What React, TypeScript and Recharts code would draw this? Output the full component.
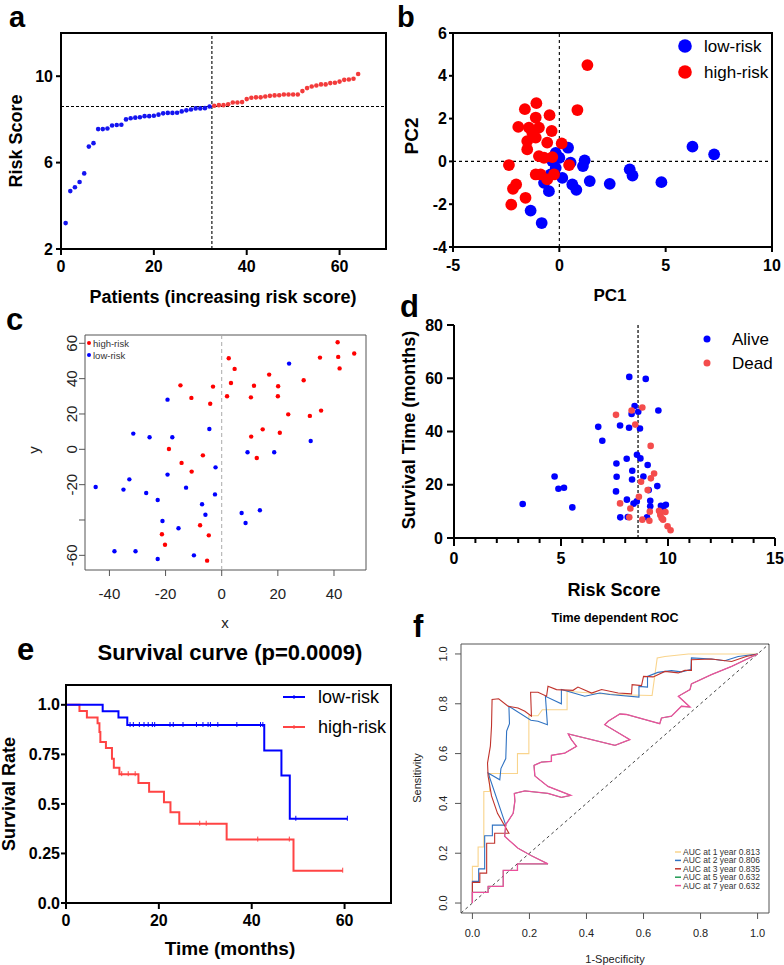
import React from 'react';
import {
  ScatterChart,
  Scatter,
  XAxis,
  YAxis,
  ReferenceLine,
  ReferenceArea,
  ComposedChart,
  Line,
} from 'recharts';

const FONT = "'Liberation Sans', Arial, Helvetica, sans-serif";

// ---------------- (a) risk score curve ----------------
const riskLow = [3.2, 4.68, 4.86, 5.1, 5.5, 6.74, 6.9, 7.55, 7.55, 7.58, 7.72, 7.74, 7.75, 8.0, 8.05, 8.08, 8.1, 8.15, 8.15, 8.17, 8.22, 8.28, 8.3, 8.3, 8.31, 8.37, 8.42, 8.46, 8.51, 8.51, 8.52, 8.6];
const riskHigh = [8.63, 8.66, 8.66, 8.7, 8.78, 8.78, 8.8, 8.94, 9.0, 9.02, 9.02, 9.06, 9.09, 9.11, 9.12, 9.15, 9.15, 9.15, 9.15, 9.31, 9.45, 9.52, 9.57, 9.62, 9.62, 9.68, 9.7, 9.75, 9.83, 9.85, 9.88, 10.1];
const riskCutoff = 8.6;
const patientCut = 32.5;
const aTicksX = [0, 20, 40, 60];
const aTicksY = [2, 6, 10];

// ---------------- (b) PCA ----------------
const pcaLow: [number, number][] = [
  [6.26, 0.69], [7.28, 0.33], [4.8, -0.97], [3.31, -0.37], [3.44, -0.66], [2.37, -1.05], [1.43, -0.92],
  [1.19, 0.05], [1.11, -0.22], [0.8, -1.33], [0.61, -1.08], [0.41, 0.64], [0.53, -0.06], [0, 0.17],
  [-0.33, 0.02], [-0.17, -0.3], [0.14, -0.77], [-0.49, -1.39], [-0.72, -1.0], [-1.35, -2.3], [-0.83, -2.88],
  [-0.17, 0.4], [-0.41, -0.61],
];
const pcaHigh: [number, number][] = [
  [1.32, 4.5], [0.85, 2.4], [-1.62, 2.44], [-1.08, 2.72], [-1.11, 2.05], [-0.46, 2.16], [-1.93, 1.61],
  [-1.43, 1.58], [-0.96, 1.58], [-0.36, 1.42], [-1.51, 0.95], [-1.11, 1.11], [-1.51, 0.56], [-0.57, 0.88],
  [0.11, 0.84], [-0.96, 0.25], [-0.33, 0.2], [-2.37, -0.17], [0.46, -0.17], [-1.11, -0.61], [-0.88, -0.61],
  [-0.57, -0.84], [-0.25, -0.61], [-2.03, -1.08], [-2.18, -1.28], [-1.59, -1.7], [-2.26, -2.02],
  [-0.72, 0.17], [-1.27, 1.34],
];
const bTicksX = [-5, 0, 5, 10];
const bTicksY = [-4, -2, 0, 2, 4, 6];

// ---------------- (c) t-SNE ----------------
const tsneHigh: [number, number][] = [
  [41.3, 60.6], [47.2, 54.2], [41.5, 52.3], [35.0, 51.9], [42.0, 45.8], [29.2, 39.1], [16.9, 42.3],
  [2.5, 51.5], [4.6, 45.5], [3.3, 37.5], [1.9, 30], [11.5, 36], [20.1, 35.7], [20, 30], [10.4, 29.4],
  [23.7, 19.8], [31.4, 18.9], [35.4, 21.9], [14.6, 11.3], [10.5, 7.2], [20.7, 9.4], [12.5, -4.9],
  [-14.7, 36.2], [-10.8, 29.1], [-3.1, 35.5], [-4.1, 25.8], [-18.8, 0.2], [-6.7, -3.4], [-14.3, -7.7],
  [-10.7, -12.6], [-7.7, -43], [-21.3, -48.1], [-20.2, -54], [-4.6, -48.7], [-5.2, -63],
];
const tsneLow: [number, number][] = [
  [24, 48.5], [31.7, 4.7], [9.2, -1.7], [18.7, -1.7], [-19.3, 28.1], [-4.4, 11.5], [-31.5, 8.9],
  [-25.7, 6.8], [-17.6, 6.8], [-2.2, -10.2], [-19.3, -14.3], [-32.9, -17], [-44.9, -21.3], [-35, -22.8],
  [-12.7, -21.7], [-26.9, -24.7], [-2.4, -25.5], [-22.8, -28.7], [-7, -31.1], [-5.8, -37], [7.1, -36],
  [13.6, -34.5], [-21.1, -40.6], [8.5, -41.7], [-15.4, -44.7], [-38.2, -57.7], [-30.7, -57.7],
  [-22.8, -62.1], [-9.9, -60],
];
const cTicksX = [-40, -20, 0, 20, 40];
const cTicksY = [-60, -40, -20, 0, 20, 40, 60];

// ---------------- (d) survival status ----------------
const survAlive: [number, number][] = [
  [3.21, 12.75], [4.7, 23.1], [4.88, 18.5], [5.14, 18.9], [5.53, 11.5], [6.74, 41.75], [6.93, 36.5],
  [7.76, 42.25], [7.59, 28], [7.6, 23], [7.57, 17.5], [7.77, 7.75], [8.19, 60.5], [8.96, 59.75],
  [8.44, 49.6], [8.3, 46.6], [8.61, 47.4], [9.55, 47.9], [8.18, 41.4], [8.69, 41.1], [8.07, 29.75],
  [8.55, 31.25], [8.71, 29.9], [9.05, 27.4], [8.33, 25.25], [8.32, 22], [8.85, 23.1], [9.1, 18],
  [9.5, 19.5], [8.08, 14.4], [8.39, 12.9], [8.54, 13.75], [9.17, 14], [9.17, 11.9], [9.02, 7.75],
  [8.12, 7.9], [9.67, 12.1], [9.9, 12.5], [9.78, 10.6],
];
const survDead: [number, number][] = [
  [7.57, 46.25], [8.3, 47.9], [8.8, 49], [8.47, 42.6], [9.19, 34.6], [9.35, 24.25], [9.2, 22.4],
  [8.74, 21.1], [9.05, 18], [8.64, 15.5], [7.76, 13], [8.24, 11.1], [9.15, 9.9], [9.58, 10.25],
  [9.88, 9.75], [9.64, 8.6], [9.7, 7.5], [9.77, 6.9], [8.8, 6.9], [9.13, 6.5], [8.19, 7.75],
  [9.98, 4.4], [10.12, 2.9], [9.63, 9.75],
];
const dTicksX = [0, 1, 2, 3, 4, 5, 6, 7, 8, 9, 10, 11, 12, 13, 14, 15];
const dTicksY = [0, 20, 40, 60, 80];

// ---------------- (e) Kaplan-Meier ----------------
const kmLowT = [0, 7.9, 11.3, 13.2, 42.7, 46.4, 48.2, 60.6];
const kmLowS = [1, 0.968, 0.936, 0.898, 0.77, 0.643, 0.425, 0.425];
const kmHighT = [0, 2.9, 4.5, 6.8, 7.2, 7.4, 8.6, 9.9, 10.3, 11.5, 15.6, 17.9, 21.1, 22.5, 24.4, 34.6, 49.0, 59.6];
const kmHighS = [1, 0.969, 0.936, 0.907, 0.863, 0.812, 0.782, 0.728, 0.682, 0.65, 0.605, 0.561, 0.509, 0.458, 0.4, 0.32, 0.163, 0.163];
const censorLowT = [13.8, 14.5, 15.8, 16.8, 17.7, 18.6, 19.1, 22.4, 23.1, 25.2, 28.1, 29.5, 30.6, 31.1, 32.7, 36.8, 41.9, 42.4, 49.5, 60.6];
const censorLowS = [0.898, 0.898, 0.898, 0.898, 0.898, 0.898, 0.898, 0.898, 0.898, 0.898, 0.898, 0.898, 0.898, 0.898, 0.898, 0.898, 0.898, 0.898, 0.425, 0.425];
const censorHighT = [12.0, 13.4, 14.9, 28.8, 30.2, 41.3, 48.1, 59.6];
const censorHighS = [0.65, 0.65, 0.65, 0.4, 0.4, 0.32, 0.32, 0.163];
const eTicksX = [0, 20, 40, 60];
const eTicksY = [0, 0.25, 0.5, 0.75, 1.0];
const eTickLabels = ['0.0', '0.25', '0.5', '0.75', '1.0'];

// ---------------- (f) time-dependent ROC ----------------
const roc1: [number, number][] = [
  [0, 0], [0, 0.147], [0.02, 0.147], [0.02, 0.225], [0.04, 0.225], [0.04, 0.448], [0.06, 0.448], [0.06, 0.52],
  [0.158, 0.52], [0.158, 0.6], [0.198, 0.6], [0.198, 0.752], [0.23, 0.752], [0.245, 0.776], [0.332, 0.776],
  [0.332, 0.85], [0.45, 0.84], [0.55, 0.835], [0.63, 0.833], [0.648, 0.984], [0.675, 0.99], [0.757, 1.0], [1, 1],
];
const roc2: [number, number][] = [
  [0, 0], [0, 0.087], [0.022, 0.087], [0.022, 0.137], [0.043, 0.137], [0.043, 0.27], [0.07, 0.27], [0.07, 0.313],
  [0.117, 0.313], [0.055, 0.522], [0.096, 0.495], [0.1, 0.54], [0.117, 0.58], [0.12, 0.69], [0.13, 0.72],
  [0.128, 0.79], [0.205, 0.734], [0.23, 0.73], [0.263, 0.716], [0.256, 0.83], [0.312, 0.8], [0.312, 0.857],
  [0.394, 0.83], [0.447, 0.843], [0.482, 0.837], [0.584, 0.827], [0.584, 0.87], [0.614, 0.867], [0.614, 0.91],
  [0.65, 0.926], [0.698, 0.933], [0.733, 0.928], [0.766, 0.937], [0.768, 0.984], [0.838, 0.98], [0.885, 0.973],
  [0.932, 0.99], [1, 1],
];
const roc3: [number, number][] = [
  [0, 0], [0, 0.083], [0.026, 0.083], [0.026, 0.12], [0.05, 0.12], [0.05, 0.24], [0.078, 0.24], [0.078, 0.28],
  [0.128, 0.28], [0.088, 0.36], [0.067, 0.43], [0.055, 0.51], [0.053, 0.562], [0.063, 0.63], [0.067, 0.71],
  [0.069, 0.817], [0.092, 0.82], [0.125, 0.79], [0.16, 0.783], [0.184, 0.77], [0.207, 0.75], [0.204, 0.846],
  [0.23, 0.846], [0.26, 0.83], [0.265, 0.87], [0.295, 0.857], [0.353, 0.854], [0.37, 0.867], [0.418, 0.843],
  [0.453, 0.857], [0.511, 0.843], [0.558, 0.84], [0.56, 0.877], [0.593, 0.873], [0.6, 0.91], [0.634, 0.908],
  [0.675, 0.93], [0.722, 0.924], [0.745, 0.934], [0.768, 0.934], [0.768, 0.977], [0.838, 0.98], [0.909, 0.97],
  [0.96, 0.99], [1, 1],
];
const roc7: [number, number][] = [
  [0, 0], [0, 0.043], [0.055, 0.043], [0.055, 0.067], [0.108, 0.067], [0.108, 0.131], [0.158, 0.131],
  [0.158, 0.157], [0.265, 0.157], [0.207, 0.19], [0.16, 0.22], [0.113, 0.268], [0.117, 0.315], [0.143, 0.36],
  [0.149, 0.41], [0.147, 0.44], [0.184, 0.45], [0.265, 0.44], [0.312, 0.424], [0.345, 0.432], [0.265, 0.468],
  [0.219, 0.51], [0.216, 0.553], [0.242, 0.566], [0.277, 0.569], [0.277, 0.593], [0.324, 0.602], [0.365, 0.629],
  [0.347, 0.656], [0.336, 0.679], [0.5, 0.633], [0.552, 0.656], [0.464, 0.716], [0.476, 0.73], [0.517, 0.759],
  [0.54, 0.757], [0.657, 0.72], [0.663, 0.743], [0.698, 0.75], [0.733, 0.79], [0.763, 0.787], [0.722, 0.83],
  [0.763, 0.857], [0.768, 0.88], [0.838, 0.917], [0.909, 0.95], [1, 1],
];
const roc5: [number, number][] = roc7; // AUC identical to 7-year curve (0.632), drawn underneath
const rocLabels = ['AUC at 1 year 0.813', 'AUC at 2 year 0.806', 'AUC at 3 year 0.835', 'AUC at 5 year 0.632', 'AUC at 7 year 0.632'];
const rocColors = ['#f9d48c', '#2f72c2', '#c0332c', '#1f9a52', '#ec4f9c'];
const rocWidths = [1.1, 1.1, 1.1, 0.8, 1.3];
const fTicks = [0, 0.2, 0.4, 0.6, 0.8, 1.0];

// ---------------- helpers ----------------
const pts = (arr: [number, number][]) => arr.map(([x, y]) => ({ x, y }));
const dot = (r: number, fill: string) => (p: any) => <circle cx={p.cx} cy={p.cy} r={r} fill={fill} />;

function Place({ l, t, w, h, yW, xH, mt, mr, children }: any) {
  const width = yW + w + mr;
  const height = mt + h + xH;
  return (
    <div style={{ position: 'absolute', left: l - yW, top: t - mt, width, height }}>
      {children(width, height, { top: mt, right: mr, left: 0, bottom: 0 })}
    </div>
  );
}

const gpTick = { fill: '#000', fontSize: 16, fontWeight: 700, fontFamily: FONT };
const gpLine = { stroke: '#000', strokeWidth: 2 };

// R style ticks
const rXTick = (len: number, off: number, fs: number) => (p: any) => (
  <g>
    <line x1={p.x} x2={p.x} y1={p.y} y2={p.y + len} stroke="#555" strokeWidth={1} />
    <text x={p.x} y={p.y + off} textAnchor="middle" dominantBaseline="central" fontSize={fs} fontFamily={FONT} fill="#222">
      {fs < 13 ? Number(p.payload.value).toFixed(1) : p.payload.value}
    </text>
  </g>
);
const rYTick = (len: number, off: number, fs: number, skip: number[]) => (p: any) => {
  const v = p.payload.value;
  const label = fs < 13 ? Number(v).toFixed(1) : String(v);
  return (
    <g>
      <line x1={p.x} x2={p.x - len} y1={p.y} y2={p.y} stroke="#555" strokeWidth={1} />
      {skip.indexOf(v) < 0 && (
        <text
          transform={`translate(${p.x - off},${p.y}) rotate(-90)`}
          textAnchor="middle"
          dominantBaseline="central"
          fontSize={fs}
          fontFamily={FONT}
          fill="#222"
        >
          {label}
        </text>
      )}
    </g>
  );
};
const dXTick = (p: any) => {
  const v = p.payload.value;
  const major = v % 5 === 0;
  return (
    <g>
      <line x1={p.x} x2={p.x} y1={p.y} y2={p.y + (major ? 8 : 5)} stroke="#000" strokeWidth={2} />
      {major && (
        <text x={p.x} y={p.y + 20} textAnchor="middle" dominantBaseline="central" fontSize={16} fontWeight={700} fontFamily={FONT} fill="#000">
          {v}
        </text>
      )}
    </g>
  );
};

// ---------------- panels ----------------
function PanelA() {
  const low = riskLow.map((v, i) => ({ x: i + 1, y: v }));
  const high = riskHigh.map((v, i) => ({ x: i + 1 + riskLow.length, y: v }));
  return (
    <Place l={61} t={33} w={325} h={216} yW={50} xH={40} mt={8} mr={8}>
      {(W: number, H: number, m: any) => (
        <ScatterChart width={W} height={H} margin={m}>
          <XAxis type="number" dataKey="x" domain={[0, 70]} ticks={aTicksX} interval={0} allowDataOverflow
            tick={gpTick} tickLine={gpLine} axisLine={gpLine} tickSize={6} tickMargin={6} height={40} />
          <YAxis type="number" dataKey="y" domain={[2, 12]} ticks={aTicksY} interval={0} allowDataOverflow
            tick={gpTick} tickLine={gpLine} axisLine={gpLine} tickSize={5} tickMargin={3} width={50} />
          <ReferenceArea x1={0} x2={70} y1={2} y2={12} fill="none" stroke="#000" strokeWidth={2} ifOverflow="visible" />
          <ReferenceLine y={riskCutoff} stroke="#000" strokeDasharray="3 2" strokeWidth={1.1} />
          <ReferenceLine x={patientCut} stroke="#000" strokeDasharray="3 2" strokeWidth={1.1} />
          <Scatter data={low} shape={dot(2.3, '#1414f0')} isAnimationActive={false} />
          <Scatter data={high} shape={dot(2.3, '#f33b3b')} isAnimationActive={false} />
        </ScatterChart>
      )}
    </Place>
  );
}

function PanelB() {
  return (
    <Place l={453} t={33} w={319} h={214} yW={40} xH={40} mt={8} mr={12}>
      {(W: number, H: number, m: any) => (
        <ScatterChart width={W} height={H} margin={m}>
          <XAxis type="number" dataKey="x" domain={[-5, 10]} ticks={bTicksX} interval={0} allowDataOverflow
            tick={gpTick} tickLine={gpLine} axisLine={gpLine} tickSize={5} tickMargin={8} height={40} />
          <YAxis type="number" dataKey="y" domain={[-4, 6]} ticks={bTicksY} interval={0} allowDataOverflow
            tick={gpTick} tickLine={gpLine} axisLine={gpLine} tickSize={4} tickMargin={2} width={40} />
          <ReferenceArea x1={-5} x2={10} y1={-4} y2={6} fill="none" stroke="#000" strokeWidth={2} ifOverflow="visible" />
          <ReferenceLine y={0} stroke="#000" strokeDasharray="3 3" strokeWidth={1.1} />
          <ReferenceLine x={0} stroke="#000" strokeDasharray="3 3" strokeWidth={1.1} />
          <Scatter data={pts(pcaLow)} shape={dot(5.9, '#0000ff')} isAnimationActive={false} />
          <Scatter data={pts(pcaHigh)} shape={dot(5.9, '#ff0000')} isAnimationActive={false} />
        </ScatterChart>
      )}
    </Place>
  );
}

function PanelC() {
  return (
    <Place l={85} t={335} w={281} h={235} yW={40} xH={40} mt={5} mr={6}>
      {(W: number, H: number, m: any) => (
        <ScatterChart width={W} height={H} margin={m}>
          <XAxis type="number" dataKey="x" domain={[-48.7, 51.4]} ticks={cTicksX} interval={0} allowDataOverflow
            tick={rXTick(6, 23, 15)} tickLine={false} axisLine={false} tickSize={0} tickMargin={0} height={40} />
          <YAxis type="number" dataKey="y" domain={[-68.3, 64.7]} ticks={cTicksY} interval={0} allowDataOverflow
            tick={rYTick(6, 14, 15, [-40])} tickLine={false} axisLine={false} tickSize={0} tickMargin={0} width={40} />
          <ReferenceArea x1={-48.7} x2={51.4} y1={-68.3} y2={64.7} fill="none" stroke="#555" strokeWidth={1} ifOverflow="visible" />
          <ReferenceLine x={0} stroke="#aaa" strokeDasharray="4 3" strokeWidth={1} />
          <Scatter data={pts(tsneHigh)} shape={dot(2.2, '#ff0000')} isAnimationActive={false} />
          <Scatter data={pts(tsneLow)} shape={dot(2.2, '#0000ff')} isAnimationActive={false} />
        </ScatterChart>
      )}
    </Place>
  );
}

function PanelD() {
  return (
    <Place l={454} t={325} w={321} h={213} yW={50} xH={40} mt={8} mr={9}>
      {(W: number, H: number, m: any) => (
        <ScatterChart width={W} height={H} margin={m}>
          <XAxis type="number" dataKey="x" domain={[0, 15]} ticks={dTicksX} interval={0} allowDataOverflow
            tick={dXTick} tickLine={false} axisLine={gpLine} tickSize={0} tickMargin={0} height={40} />
          <YAxis type="number" dataKey="y" domain={[0, 80]} ticks={dTicksY} interval={0} allowDataOverflow
            tick={gpTick} tickLine={gpLine} axisLine={gpLine} tickSize={7} tickMargin={4} width={50} />
          <ReferenceLine x={riskCutoff} stroke="#000" strokeDasharray="3 2" strokeWidth={1.2} />
          <Scatter data={pts(survAlive)} shape={dot(3.3, '#0000ff')} isAnimationActive={false} />
          <Scatter data={pts(survDead)} shape={dot(3.3, '#f44c4c')} isAnimationActive={false} />
        </ScatterChart>
      )}
    </Place>
  );
}

const censorShape = (color: string) => (p: any) => (
  <line x1={p.cx} x2={p.cx} y1={p.cy - 3} y2={p.cy + 2} stroke={color} strokeWidth={1} />
);

function PanelE() {
  const low = kmLowT.map((t, i) => ({ t, s: kmLowS[i] }));
  const high = kmHighT.map((t, i) => ({ t, s: kmHighS[i] }));
  const cLow = censorLowT.map((t, i) => ({ t, s: censorLowS[i] }));
  const cHigh = censorHighT.map((t, i) => ({ t, s: censorHighS[i] }));
  return (
    <Place l={66} t={685} w={325} h={218} yW={60} xH={35} mt={5} mr={4}>
      {(W: number, H: number, m: any) => (
        <ComposedChart width={W} height={H} margin={m}>
          <XAxis type="number" dataKey="t" domain={[0, 70]} ticks={eTicksX} interval={0} allowDataOverflow
            tick={gpTick} tickLine={gpLine} axisLine={gpLine} tickSize={6} tickMargin={6} height={35} />
          <YAxis type="number" domain={[0, 1.1]} ticks={eTicksY} interval={0} allowDataOverflow
            tickFormatter={(v: number) => eTickLabels[eTicksY.indexOf(v)]}
            tick={gpTick} tickLine={gpLine} axisLine={gpLine} tickSize={5} tickMargin={1} width={60} />
          <ReferenceArea x1={0} x2={70} y1={0} y2={1.1} fill="none" stroke="#000" strokeWidth={2} ifOverflow="visible" />
          <Line data={high} dataKey="s" type="stepAfter" stroke="#ff4444" strokeWidth={2} dot={false} isAnimationActive={false} />
          <Line data={low} dataKey="s" type="stepAfter" stroke="#0000ff" strokeWidth={2} dot={false} isAnimationActive={false} />
          <Scatter data={cHigh} dataKey="s" shape={censorShape('#ff4444')} isAnimationActive={false} />
          <Scatter data={cLow} dataKey="s" shape={censorShape('#0000ff')} isAnimationActive={false} />
        </ComposedChart>
      )}
    </Place>
  );
}

function PanelF() {
  const series = [roc1, roc2, roc3, roc5, roc7];
  return (
    <Place l={461} t={644} w={308} h={269} yW={40} xH={35} mt={5} mr={10}>
      {(W: number, H: number, m: any) => (
        <ComposedChart width={W} height={H} margin={m}>
          <XAxis type="number" dataKey="x" domain={[-0.04, 1.04]} ticks={fTicks} interval={0} allowDataOverflow
            tick={rXTick(6, 20, 11)} tickLine={false} axisLine={false} tickSize={0} tickMargin={0} height={35} />
          <YAxis type="number" domain={[-0.04, 1.04]} ticks={fTicks} interval={0} allowDataOverflow
            tick={rYTick(6, 18, 11, [])} tickLine={false} axisLine={false} tickSize={0} tickMargin={0} width={40} />
          <ReferenceArea x1={-0.04} x2={1.04} y1={-0.04} y2={1.04} fill="none" stroke="#555" strokeWidth={1} ifOverflow="visible" />
          <ReferenceLine segment={[{ x: -0.04, y: -0.04 }, { x: 1.04, y: 1.04 }]} stroke="#444" strokeDasharray="3 3" strokeWidth={1} ifOverflow="visible" />
          {series.map((s, i) => (
            <Line key={i} data={s.map(([x, y]) => ({ x, y }))} dataKey="y" type="linear" stroke={rocColors[i]}
              strokeWidth={rocWidths[i]} dot={false} isAnimationActive={false} />
          ))}
        </ComposedChart>
      )}
    </Place>
  );
}

function Overlay() {
  const bold = { fontWeight: 700 } as any;
  return (
    <svg width={784} height={965} style={{ position: 'absolute', left: 0, top: 0, pointerEvents: 'none' }} fontFamily={FONT}>
      {/* panel letters */}
      <text x={9} y={27} fontSize={29} {...bold}>a</text>
      <text x={397} y={27} fontSize={29} {...bold}>b</text>
      <text x={6} y={330} fontSize={31} {...bold}>c</text>
      <text x={400} y={317} fontSize={31} {...bold}>d</text>
      <text x={17} y={660} fontSize={31} {...bold}>e</text>
      <text x={413} y={637} fontSize={31} {...bold}>f</text>

      {/* a */}
      <text x={223} y={297} fontSize={18} {...bold} textAnchor="middle" dominantBaseline="central">Patients (increasing risk score)</text>
      <text transform="translate(16,141) rotate(-90)" fontSize={18} {...bold} textAnchor="middle" dominantBaseline="central">Risk Score</text>

      {/* b */}
      <text x={610} y={295} fontSize={17} {...bold} textAnchor="middle" dominantBaseline="central">PC1</text>
      <text transform="translate(411,136) rotate(-90)" fontSize={19} {...bold} textAnchor="middle" dominantBaseline="central">PC2</text>
      <circle cx={685} cy={46} r={6.8} fill="#0000ff" />
      <text x={704} y={46} fontSize={17} dominantBaseline="central">low-risk</text>
      <circle cx={685} cy={72} r={6.8} fill="#ff0000" />
      <text x={704} y={72} fontSize={17} dominantBaseline="central">high-risk</text>

      {/* c */}
      <text x={225} y={622} fontSize={15} fill="#222" textAnchor="middle" dominantBaseline="central">x</text>
      <text transform="translate(33,450) rotate(-90)" fontSize={15} fill="#222" textAnchor="middle" dominantBaseline="central">y</text>
      <circle cx={89} cy={343} r={2} fill="#ff0000" />
      <text x={93} y={343} fontSize={9.5} fill="#333" dominantBaseline="central">high-risk</text>
      <circle cx={89} cy={355} r={2} fill="#0000ff" />
      <text x={93} y={355} fontSize={9.5} fill="#333" dominantBaseline="central">low-risk</text>

      {/* d */}
      <text x={614} y={590} fontSize={18} {...bold} textAnchor="middle" dominantBaseline="central">Risk Score</text>
      <text transform="translate(409,430) rotate(-90)" fontSize={18} {...bold} textAnchor="middle" dominantBaseline="central">Survival Time (months)</text>
      <circle cx={707} cy={339} r={3.5} fill="#0000ff" />
      <text x={732} y={339} fontSize={17} dominantBaseline="central">Alive</text>
      <circle cx={707} cy={363} r={3.5} fill="#f44c4c" />
      <text x={732} y={363} fontSize={17} dominantBaseline="central">Dead</text>

      {/* e */}
      <text x={230} y={652} fontSize={22} {...bold} textAnchor="middle" dominantBaseline="central">Survival curve (p=0.0009)</text>
      <text x={230} y={948} fontSize={19} {...bold} textAnchor="middle" dominantBaseline="central">Time (months)</text>
      <text transform="translate(9,794) rotate(-90)" fontSize={18} {...bold} textAnchor="middle" dominantBaseline="central">Survival Rate</text>
      <line x1={283} x2={305} y1={697} y2={697} stroke="#0000ff" strokeWidth={2} />
      <line x1={294} x2={294} y1={695} y2={699} stroke="#0000ff" strokeWidth={1} />
      <text x={318} y={697} fontSize={18} dominantBaseline="central">low-risk</text>
      <line x1={283} x2={305} y1={727} y2={727} stroke="#ff4444" strokeWidth={2} />
      <line x1={294} x2={294} y1={725} y2={729} stroke="#ff4444" strokeWidth={1} />
      <text x={318} y={727} fontSize={18} dominantBaseline="central">high-risk</text>

      {/* f */}
      <text x={615} y={618} fontSize={12.5} {...bold} textAnchor="middle" dominantBaseline="central">Time dependent ROC</text>
      <text x={615} y={959} fontSize={11} fill="#222" textAnchor="middle" dominantBaseline="central">1-Specificity</text>
      <text transform="translate(417,778) rotate(-90)" fontSize={11} fill="#222" textAnchor="middle" dominantBaseline="central">Sensitivity</text>
      {rocLabels.map((lab, i) => (
        <g key={lab}>
          <line x1={675} x2={681} y1={852 + i * 8.4} y2={852 + i * 8.4} stroke={rocColors[i]} strokeWidth={1.5} />
          <text x={683} y={852 + i * 8.4} fontSize={8.5} fill="#333" dominantBaseline="central">{lab}</text>
        </g>
      ))}
    </svg>
  );
}

export default function App() {
  return (
    <div style={{ position: 'absolute', left: 0, top: 0, width: 784, height: 965, background: '#fff', fontFamily: FONT }}>
      <PanelA />
      <PanelB />
      <PanelC />
      <PanelD />
      <PanelE />
      <PanelF />
      <Overlay />
    </div>
  );
}
